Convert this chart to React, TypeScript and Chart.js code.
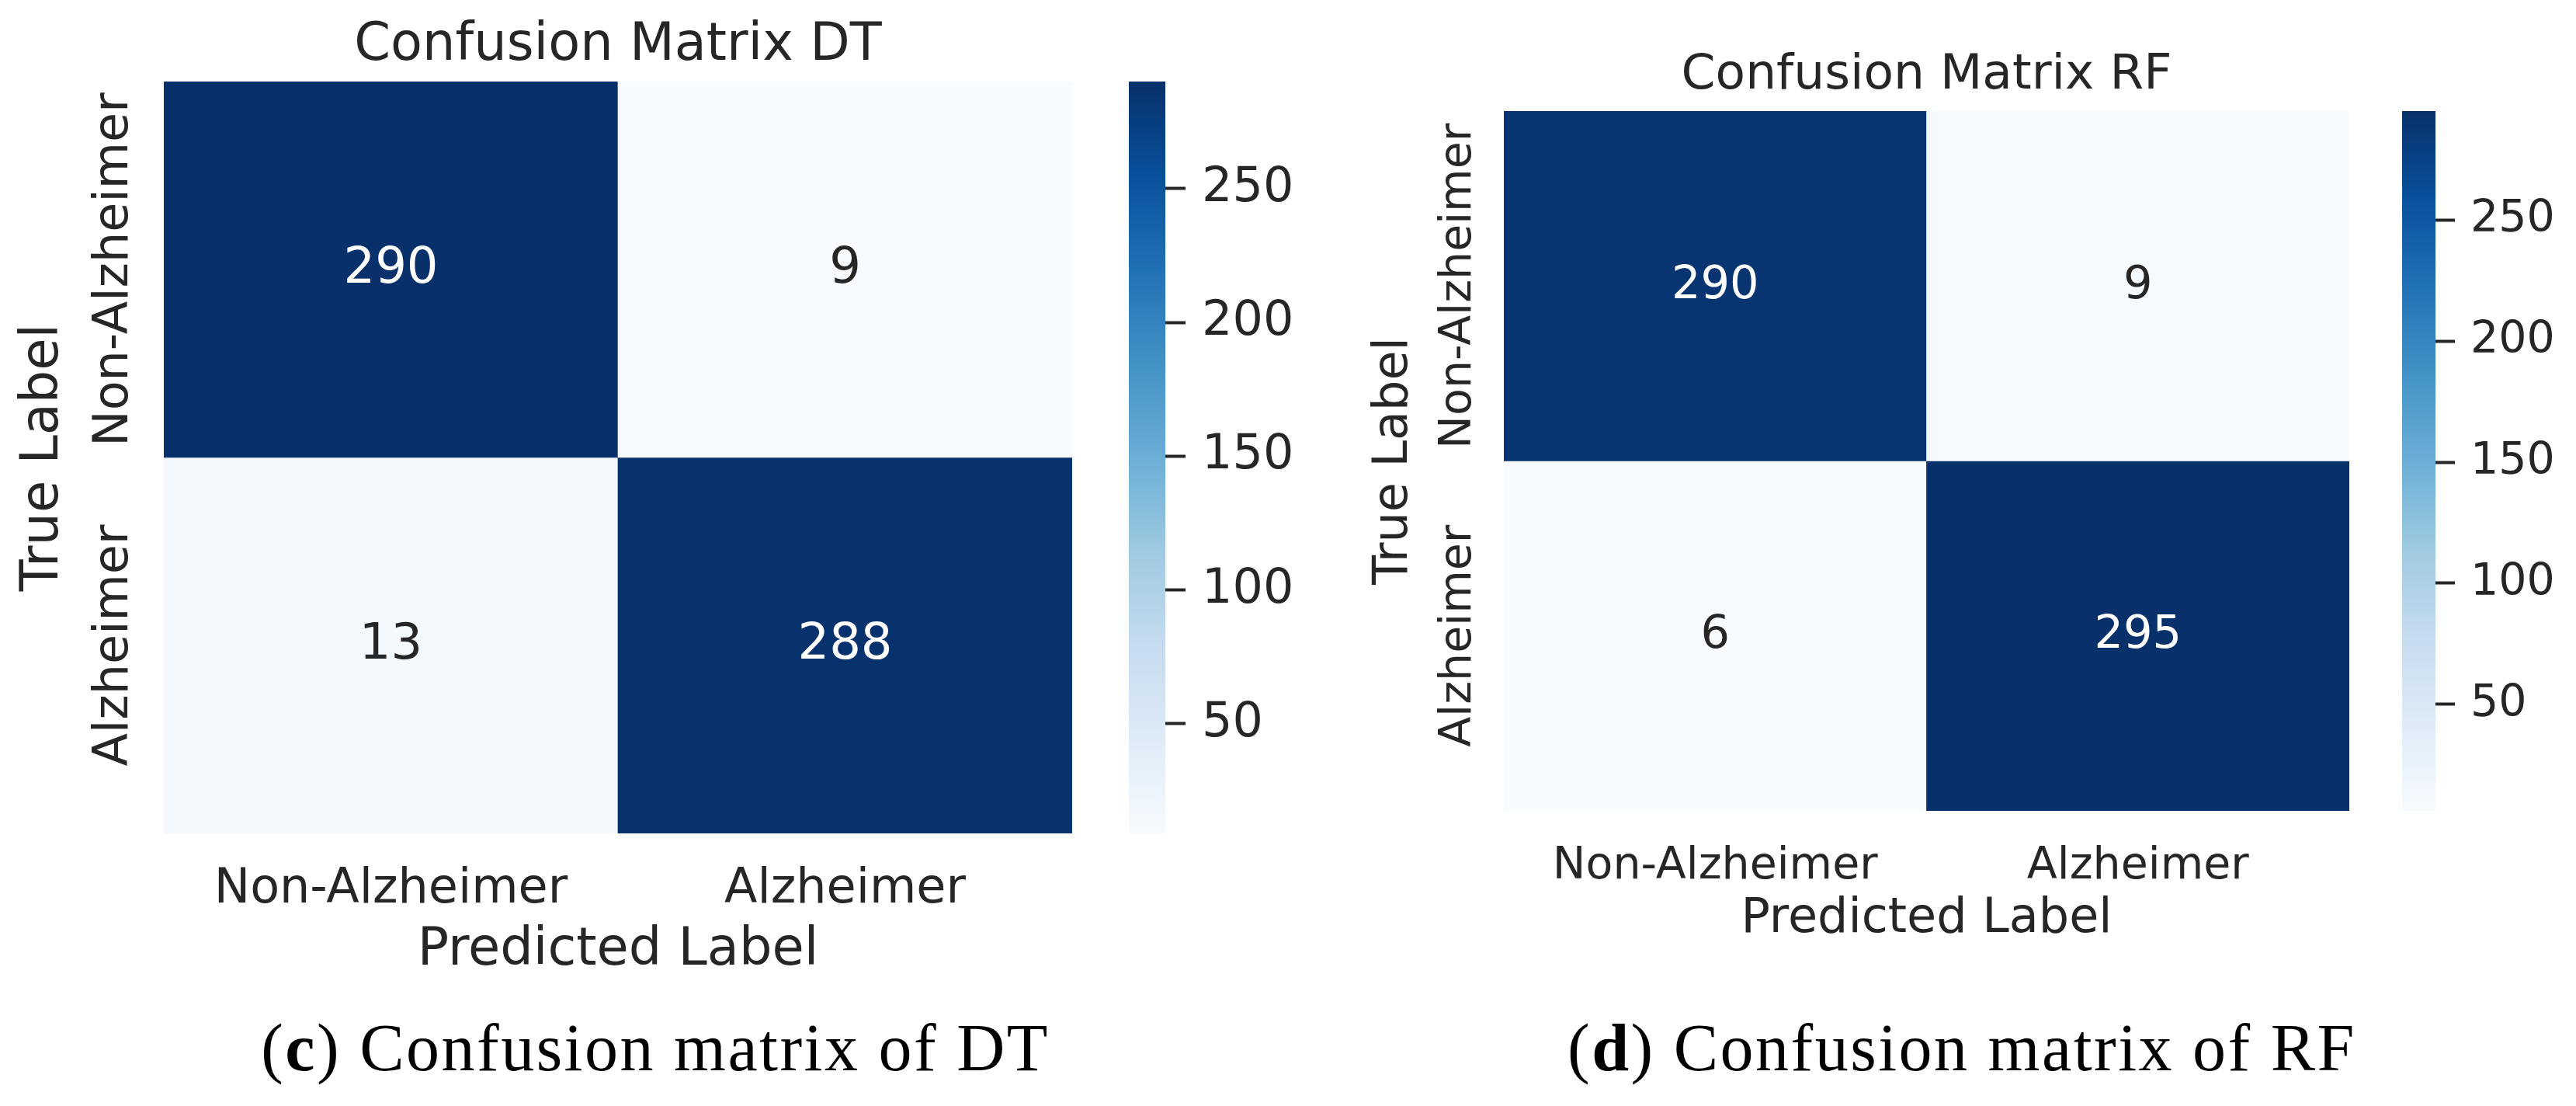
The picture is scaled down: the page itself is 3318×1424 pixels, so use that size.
import React, { useEffect, useRef } from 'react';
import { Chart, registerables } from 'chart.js';

Chart.register(...registerables);

// ---------- data ----------
const predictedLabels = ['Non-Alzheimer', 'Alzheimer'];
const trueLabels = ['Non-Alzheimer', 'Alzheimer'];
const dtMatrix = [
  [290, 9],
  [13, 288],
];
const rfMatrix = [
  [290, 9],
  [6, 295],
];
const colorbarTicks = [50, 100, 150, 200, 250];
const panelTitles = ['Confusion Matrix DT', 'Confusion Matrix RF'];
const captionLetters = ['c', 'd'];
const captionTexts = [' Confusion matrix of DT', ' Confusion matrix of RF'];
const matrices = [dtMatrix, rfMatrix];

// ---------- styles ----------
const BLUES = ['#f7fbff', '#deebf7', '#c6dbef', '#9ecae1', '#6baed6', '#4292c6', '#2171b5', '#08519c', '#08306b'];
const TEXT = '#262626';
const FONT = '"DejaVu Sans", sans-serif';

function hexToRgb(h: string) {
  const n = parseInt(h.slice(1), 16);
  return [(n >> 16) & 255, (n >> 8) & 255, n & 255];
}
function blues(t: number) {
  const tt = Math.max(0, Math.min(1, t));
  const pos = tt * (BLUES.length - 1);
  const i = Math.min(BLUES.length - 2, Math.floor(pos));
  const f = pos - i;
  const a = hexToRgb(BLUES[i]);
  const b = hexToRgb(BLUES[i + 1]);
  const c = a.map((v, k) => Math.round(v + (b[k] - v) * f));
  return `rgb(${c[0]},${c[1]},${c[2]})`;
}

const LAYOUT = [
  {
    left: 0, width: 1381, height: 1265, areaLeft: 211,
    titleFont: 67, titlePadTop: 19, titlePadBottom: 5.6,
    labelFont: 67, yTitlePad: 16, tickFont: 62, tickPad: 36,
    rowLabelOffset: 47, annotFont: 64, xAxisHeight: 192,
    cb: { left: 1440, width: 300, height: 1200, top: 105, bottom: 1073, barLeft: 14, barWidth: 47, font: 62, tickLength: 26, pad: 21 },
    caption: { center: 844, top: 1306, font: 86, spacing: 2.5 },
  },
  {
    left: 1659, width: 1367, height: 1221, areaLeft: 278,
    titleFont: 63, titlePadTop: 60, titlePadBottom: 7.4,
    labelFont: 62, yTitlePad: 100, tickFont: 57, tickPad: 38,
    rowLabelOffset: 43, annotFont: 59, xAxisHeight: 177,
    cb: { left: 3080, width: 238, height: 1200, top: 143, bottom: 1044, barLeft: 14, barWidth: 43, font: 57, tickLength: 25, pad: 20 },
    caption: { center: 2527, top: 1306, font: 86, spacing: 2.5 },
  },
];

const rowLabelPlugin = {
  id: 'rowLabels',
  afterDraw(chart: any, _args: any, opts: any) {
    const { ctx, chartArea } = chart;
    const yScale = chart.scales.y;
    ctx.save();
    ctx.fillStyle = TEXT;
    ctx.font = `${opts.size}px ${FONT}`;
    ctx.textAlign = 'center';
    ctx.textBaseline = 'alphabetic';
    (opts.labels as string[]).forEach((lab, r) => {
      const y = yScale.getPixelForValue(r + 0.5);
      const x = chartArea.left - opts.offset;
      ctx.save();
      ctx.translate(x, y);
      ctx.rotate(-Math.PI / 2);
      ctx.fillText(lab, 0, 0);
      ctx.restore();
    });
    ctx.restore();
  },
};

const annotPlugin = {
  id: 'annot',
  afterDatasetsDraw(chart: any, _args: any, opts: any) {
    const { ctx } = chart;
    const m: number[][] = opts.matrix;
    const vmin = Math.min(...m.flat());
    const vmax = Math.max(...m.flat());
    ctx.save();
    ctx.font = `${opts.size}px ${FONT}`;
    ctx.textAlign = 'center';
    ctx.textBaseline = 'middle';
    m.forEach((row, r) => {
      const meta = chart.getDatasetMeta(r);
      row.forEach((v, c) => {
        const el: any = meta.data[c];
        if (!el) return;
        const p = el.getProps(['x', 'y', 'base'], true);
        const t = (v - vmin) / (vmax - vmin);
        ctx.fillStyle = t > 0.5 ? '#ffffff' : TEXT;
        ctx.fillText(String(v), p.x, (p.y + p.base) / 2);
      });
    });
    ctx.restore();
  },
};

function Panel({ idx }: { idx: number }) {
  const heatRef = useRef<HTMLCanvasElement | null>(null);
  const cbRef = useRef<HTMLCanvasElement | null>(null);
  const L = LAYOUT[idx];
  const matrix = matrices[idx];

  useEffect(() => {
    const vmin = Math.min(...matrix.flat());
    const vmax = Math.max(...matrix.flat());
    const heat = new Chart(heatRef.current as HTMLCanvasElement, {
      type: 'bar',
      data: {
        labels: predictedLabels,
        datasets: matrix.map((row, r) => ({
          label: trueLabels[r],
          data: row.map(() => [r, r + 1]) as any,
          backgroundColor: row.map((v) => blues((v - vmin) / (vmax - vmin))),
          borderWidth: 0,
          barPercentage: 1,
          categoryPercentage: 1,
          grouped: false,
        })),
      },
      options: {
        animation: false,
        responsive: false,
        devicePixelRatio: 1,
        layout: { padding: 0 },
        scales: {
          x: {
            grid: { display: false, drawTicks: false },
            border: { display: false },
            ticks: { font: { family: FONT, size: L.tickFont }, color: TEXT, padding: L.tickPad, maxRotation: 0, minRotation: 0 },
            title: { display: true, text: 'Predicted Label', font: { family: FONT, size: L.labelFont }, color: TEXT, padding: { top: 0, bottom: 0 } },
            afterFit: (s: any) => { s.height = L.xAxisHeight; },
          },
          y: {
            min: 0,
            max: 2,
            reverse: true,
            grid: { display: false, drawTicks: false },
            border: { display: false },
            ticks: { display: false },
            title: { display: true, text: 'True Label', font: { family: FONT, size: L.labelFont }, color: TEXT, padding: { top: L.yTitlePad, bottom: 0 } },
            afterFit: (s: any) => { s.width = L.areaLeft; },
          },
        },
        plugins: {
          legend: { display: false },
          tooltip: { enabled: false },
          title: {
            display: true,
            text: panelTitles[idx],
            fullSize: false,
            font: { family: FONT, size: L.titleFont, weight: 'normal' },
            color: TEXT,
            padding: { top: L.titlePadTop, bottom: L.titlePadBottom },
          },
          rowLabels: { labels: trueLabels, size: L.tickFont, offset: L.rowLabelOffset },
          annot: { matrix, size: L.annotFont },
        } as any,
      },
      plugins: [rowLabelPlugin, annotPlugin],
    });

    const cb = new Chart(cbRef.current as HTMLCanvasElement, {
      type: 'bar',
      data: {
        labels: ['colorbar'],
        datasets: [
          {
            data: [[vmin, vmax]] as any,
            backgroundColor: (ctx: any) => {
              const area = ctx.chart.chartArea;
              if (!area) return BLUES[8];
              const g = ctx.chart.ctx.createLinearGradient(0, area.bottom, 0, area.top);
              BLUES.forEach((col, i) => g.addColorStop(i / (BLUES.length - 1), col));
              return g;
            },
            borderWidth: 0,
            barPercentage: 1,
            categoryPercentage: 1,
          },
        ],
      },
      options: {
        animation: false,
        responsive: false,
        devicePixelRatio: 1,
        layout: { padding: { left: L.cb.barLeft, top: L.cb.top, bottom: L.cb.height - L.cb.bottom, right: 0 } },
        scales: {
          x: { display: false },
          y: {
            position: 'right',
            min: vmin,
            max: vmax,
            afterBuildTicks: (s: any) => { s.ticks = colorbarTicks.map((v) => ({ value: v })); },
            ticks: { font: { family: FONT, size: L.cb.font }, color: TEXT, padding: L.cb.pad },
            grid: { display: true, drawOnChartArea: false, drawTicks: true, tickLength: L.cb.tickLength, tickWidth: 4, color: TEXT, tickColor: TEXT },
            border: { display: false },
            afterFit: (s: any) => { s.width = L.cb.width - L.cb.barLeft - L.cb.barWidth; },
          },
        },
        plugins: { legend: { display: false }, tooltip: { enabled: false } },
      },
    });

    return () => {
      heat.destroy();
      cb.destroy();
    };
  }, []);

  return (
    <>
      <canvas
        ref={heatRef}
        width={L.width}
        height={L.height}
        style={{ position: 'absolute', left: L.left, top: 0, width: L.width, height: L.height }}
      />
      <canvas
        ref={cbRef}
        width={L.cb.width}
        height={L.cb.height}
        style={{ position: 'absolute', left: L.cb.left, top: 0, width: L.cb.width, height: L.cb.height }}
      />
      <div
        style={{
          position: 'absolute',
          left: L.caption.center - 700,
          width: 1400,
          top: L.caption.top,
          textAlign: 'center',
          fontFamily: '"Liberation Serif", serif',
          fontSize: L.caption.font,
          letterSpacing: L.caption.spacing,
          lineHeight: 1,
          color: '#000',
          whiteSpace: 'nowrap',
        }}
      >
        (<b>{captionLetters[idx]}</b>){captionTexts[idx]}
      </div>
    </>
  );
}

export default function App() {
  return (
    <div style={{ position: 'absolute', left: 0, top: 0, width: 3318, height: 1424, background: '#fff', overflow: 'hidden' }}>
      <Panel idx={0} />
      <Panel idx={1} />
    </div>
  );
}
